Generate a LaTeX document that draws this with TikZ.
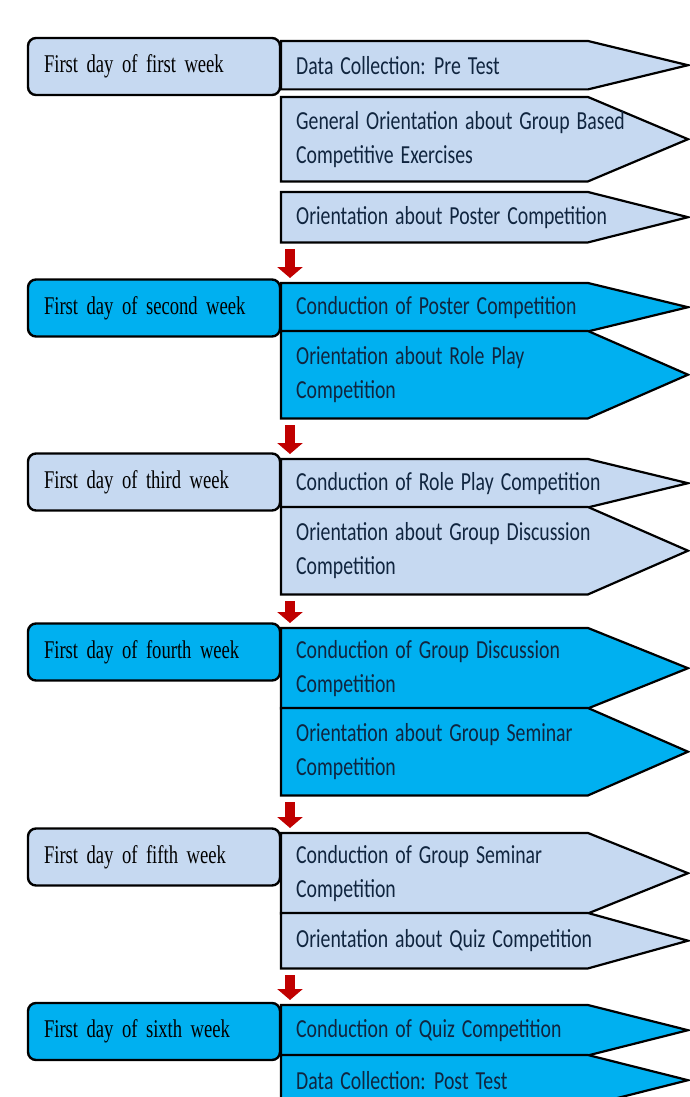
\documentclass[tikz,border=0pt]{standalone}
\usepackage{fontspec}
\newfontfamily\dayfont[FakeStretch=0.73]{Liberation Serif}
\newfontfamily\stepfont[FakeStretch=0.76]{Carlito}
\newcommand\daytype{\dayfont\fontsize{25.5}{30}\selectfont\spaceskip=5.5pt plus 1pt\relax}
\newcommand\steptype{\stepfont\fontsize{26}{34}\selectfont\spaceskip=7pt plus 1pt\relax}
\usetikzlibrary{arrows.meta,backgrounds}
\definecolor{PaleBlue}{RGB}{198,217,241}
\definecolor{SkyBlue}{RGB}{0,176,240}
\definecolor{NavyText}{RGB}{16,37,63}
\definecolor{DarkRed}{RGB}{192,0,0}
\tikzset{
  daybox/.style={draw=black,line width=2.4pt,rounded corners=8pt,text=black,font=\daytype,minimum height=57pt,inner xsep=16pt,text width=220pt,align=left},
  stepnote/.style={anchor=north west,draw=none,text=NavyText,font=\steptype,inner xsep=15pt,align=left},
  stepedge/.style={draw=black,line width=2.2pt,line join=miter},
  linkarrow/.style={-{Triangle[width=25pt,length=11pt]},line width=10pt,draw=DarkRed,shorten <=7pt,shorten >=5pt}
}
\begin{document}
\begin{tikzpicture}[x=1pt,y=-1pt]
  \useasboundingbox (0,0) rectangle (690,1097);
  % week boxes on the left
  \begin{scope}[on background layer]
    \foreach \n/\y/\f/\txt in {wk1/66.5/PaleBlue/first,wk2/308/SkyBlue/second,wk3/482/PaleBlue/third,
      wk4/652/SkyBlue/fourth,wk5/857/PaleBlue/fifth,wk6/1031.5/SkyBlue/sixth}{
      \node[daybox,fill=\f] (\n) at (154,\y) {First day of \txt\ week};
    }
  \end{scope}
  % activity arrows
  \foreach \n/\t/\h/\f/\txt in {
    a1/41/48/PaleBlue/{Data Collection: Pre Test},
    a2/97/84/PaleBlue/{General Orientation about Group Based\\Competitive Exercises},
    a3/192/50/PaleBlue/{Orientation about Poster Competition},
    b1/283/48/SkyBlue/{Conduction of Poster Competition},
    b2/331/87/SkyBlue/{Orientation about Role Play\\Competition},
    c1/459/48/PaleBlue/{Conduction of Role Play Competition},
    c2/507/87/PaleBlue/{Orientation about Group Discussion\\Competition},
    d1/628/80/SkyBlue/{Conduction of Group Discussion\\Competition},
    d2/708/87/SkyBlue/{Orientation about Group Seminar\\Competition},
    e1/833/80/PaleBlue/{Conduction of Group Seminar\\Competition},
    e2/913/55/PaleBlue/{Orientation about Quiz Competition},
    f1/1005/50/SkyBlue/{Conduction of Quiz Competition},
    f2/1055/50/SkyBlue/{Data Collection: Post Test}}{
    \node[stepnote,minimum height={\h pt}] (\n) at (281,\t) {\txt};
    \begin{scope}[on background layer]
      \draw[stepedge,fill=\f] (\n.north west) -- ([xshift=307pt]\n.north west) -- ([xshift=407pt]\n.west)
        -- ([xshift=307pt]\n.south west) -- (\n.south west) -- cycle;
    \end{scope}
  }
  % links between weeks
  \foreach \u/\v in {a3/b1,b2/c1,c2/d1,d2/e1,e2/f1}
    \draw[linkarrow] ([xshift=9pt]\u.south west) -- ([xshift=9pt]\v.north west);
\end{tikzpicture}
\end{document}
